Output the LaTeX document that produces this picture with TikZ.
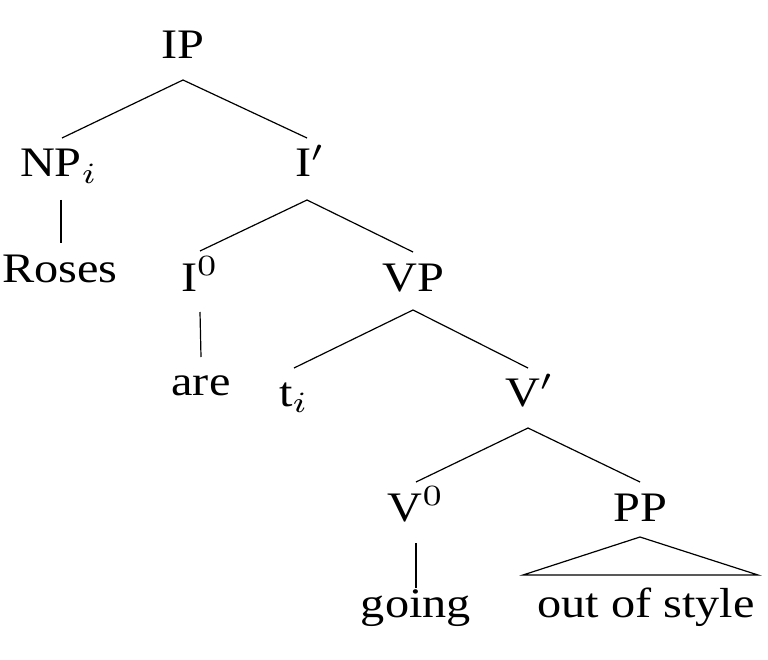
\documentclass[tikz,border=0pt]{standalone}
\usepackage[no-math]{fontspec}
\setmainfont{Liberation Serif}
\begin{document}
\begin{tikzpicture}[x=1pt,y=-1pt,
  lab/.style={anchor=base,inner sep=0pt,xscale=4.83,yscale=4.2,font=\fontsize{10}{12}\selectfont},
  edge/.style={line width=1.2pt,line cap=butt}]
\useasboundingbox (0,0) rectangle (768,660);
\fill[white] (0,0) rectangle (768,660);
% nodes (x = centre, y = baseline)
\node[lab] (IP)   at (183,59)  {IP};
\node[lab] (NP)   at (59,177)  {NP$_i$};
\node[lab] (Ib)   at (310,177) {I$'$};
\node[lab] (Ros)  at (60,283)  {Roses};
\node[lab] (I0)   at (200,291) {I$^0$};
\node[lab] (VP)   at (413,291) {VP};
\node[lab] (are)  at (201,395) {are};
\node[lab] (t)    at (294,406) {t$_i$};
\node[lab] (Vb)   at (530,406) {V$'$};
\node[lab] (V0)   at (416,521) {V$^0$};
\node[lab] (PP)   at (640,521) {PP};
\node[lab] (go)   at (416,617) {going};
\node[lab] (oos)  at (646,617) {out of style};
% edges
\draw[edge] ([yshift=-21pt]IP.base) -- ([xshift=3pt,yshift=39pt]NP.base);
\draw[edge] ([yshift=-21pt]IP.base) -- ([xshift=-3pt,yshift=39pt]Ib.base);
\draw[edge] ([xshift=2pt,yshift=-23pt]NP.base) -- ([xshift=1pt,yshift=40pt]Ros.base);
\draw[edge] ([xshift=-3pt,yshift=-23pt]Ib.base) -- ([yshift=40pt]I0.base);
\draw[edge] ([xshift=-3pt,yshift=-23pt]Ib.base) -- ([yshift=39pt]VP.base);
\draw[edge] ([yshift=-21pt]I0.base) -- ([yshift=38pt]are.base);
\draw[edge] ([yshift=-19pt]VP.base) -- ([yshift=38pt]t.base);
\draw[edge] ([yshift=-19pt]VP.base) -- ([xshift=-2pt,yshift=38pt]Vb.base);
\draw[edge] ([xshift=-2pt,yshift=-22pt]Vb.base) -- ([yshift=39pt]V0.base);
\draw[edge] ([xshift=-2pt,yshift=-22pt]Vb.base) -- ([yshift=39pt]PP.base);
\draw[edge] ([yshift=-22pt]V0.base) -- ([yshift=29pt]go.base);
\draw[edge,line join=miter] ([yshift=-16pt]PP.base)
  -- ([xshift=-123pt,yshift=42pt]oos.base)
  -- ([xshift=112pt,yshift=42pt]oos.base) -- cycle;
\end{tikzpicture}
\end{document}
